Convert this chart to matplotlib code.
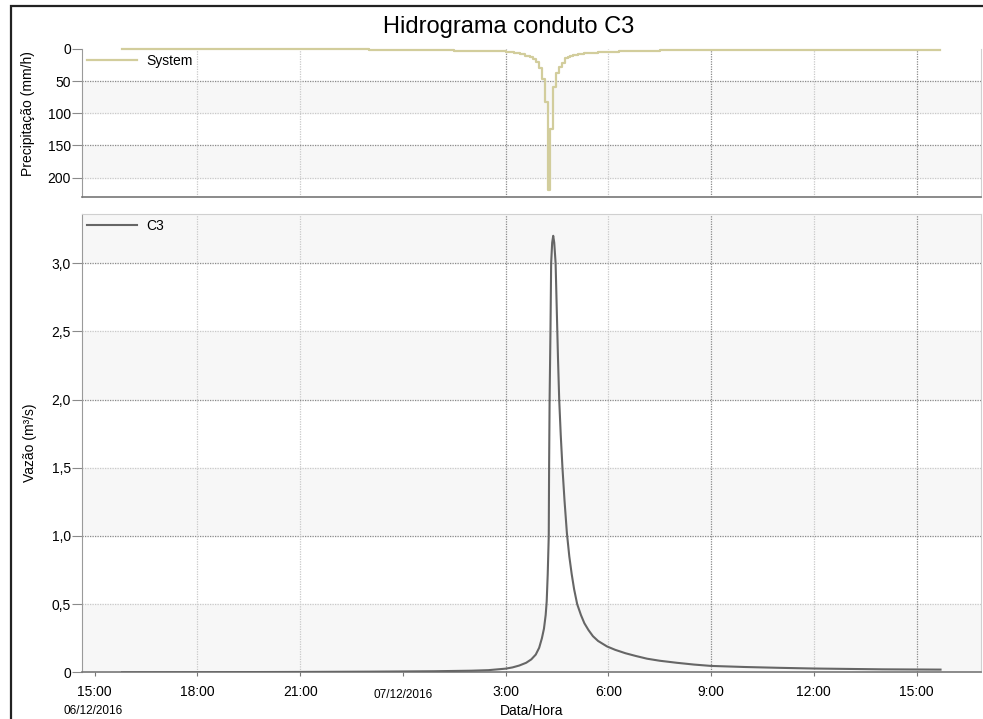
"""Hidrograma do conduto C3 com hietograma do evento (06-07/12/2016)."""
from datetime import datetime, timedelta

import matplotlib
matplotlib.use("Agg")
import matplotlib.pyplot as plt
import matplotlib.dates as mdates
from matplotlib.patches import Rectangle

plt.rcParams["font.family"] = ["Liberation Sans", "DejaVu Sans"]

BASE = datetime(2016, 12, 7, 0, 0)

# horas a partir de 07/12/2016 00:00, vazao em m3/s
flow_hours = [-8.2, -6.0, -3.0, -1.0, 0.9, 2.0, 2.5, 3.0, 3.2, 3.4, 3.6, 3.75,
              3.88, 3.98, 4.06, 4.12, 4.17, 4.20, 4.23, 4.26, 4.27, 4.285, 4.31,
              4.33, 4.36, 4.39, 4.42, 4.46, 4.50, 4.53, 4.565, 4.61, 4.66, 4.72,
              4.79, 4.86, 4.93, 5.0, 5.09, 5.2, 5.3, 5.42, 5.55, 5.7, 5.96, 6.2,
              6.5, 6.8, 7.13, 7.5, 8.0, 8.5, 9.0, 10.0, 11.0, 12.0, 13.0, 14.0,
              15.7]
flow_c3 = [0.0, 0.001, 0.003, 0.005, 0.008, 0.012, 0.016, 0.027, 0.036, 0.05,
           0.07, 0.095, 0.13, 0.18, 0.25, 0.32, 0.42, 0.52, 0.72, 1.0, 1.5, 2.0,
           2.5, 3.0, 3.15, 3.2, 3.15, 3.0, 2.6, 2.3, 2.0, 1.74, 1.5, 1.26, 1.02,
           0.85, 0.72, 0.61, 0.5, 0.42, 0.36, 0.31, 0.265, 0.23, 0.19, 0.165,
           0.14, 0.12, 0.10, 0.085, 0.07, 0.057, 0.047, 0.039, 0.033, 0.028,
           0.025, 0.022, 0.02]

# inicio de cada degrau do hietograma (horas) e intensidade (mm/h)
rain_hours = [-8.2, -4.0, -1.0, 0.5, 1.5, 2.5, 3.0, 3.25, 3.42, 3.58, 3.71,
              3.808, 3.892, 3.975, 4.058, 4.142, 4.225, 4.308, 4.392, 4.475,
              4.558, 4.642, 4.725, 4.808, 4.892, 4.975, 5.1, 5.3, 5.47, 5.7,
              5.95, 6.3, 6.72, 7.5, 9.0, 12.0, 15.68]
rain_system = [0.8, 1.0, 1.5, 2.3, 3.0, 4.0, 5.0, 6.5, 8.5, 10.5, 12.7, 16.0,
               21.0, 30.0, 47.0, 82.0, 219.0, 125.0, 60.0, 37.0, 28.0, 21.5,
               15.0, 12.5, 11.0, 9.5, 8.5, 7.2, 6.5, 5.5, 4.5, 3.7, 3.0, 2.0,
               1.5, 1.2, 1.2]

tick_hours = [-9, -6, -3, 0, 3, 6, 9, 12, 15]
tick_labels = ["15:00", "18:00", "21:00", "", "3:00", "6:00", "9:00", "12:00", "15:00"]


def to_dates(hours):
    return [BASE + timedelta(hours=h) for h in hours]


flow_t = to_dates(flow_hours)
rain_t = to_dates(rain_hours)
ticks = to_dates(tick_hours)

fig = plt.figure(figsize=(9.83, 7.19), dpi=100)
ax_p = fig.add_axes([0.0834, 0.7264, 0.9145, 0.2057])
ax_q = fig.add_axes([0.0834, 0.0649, 0.9145, 0.6375], sharex=ax_p)

fig.patches.append(Rectangle((11 / 983, -0.05), 1.2, 1.05 - 6 / 719,
                             transform=fig.transFigure, fill=False,
                             edgecolor="#222222", linewidth=1.6))
fig.text(0.517, 1 - 27 / 719, "Hidrograma conduto C3", ha="center", va="center",
         fontsize=17)

x0 = BASE + timedelta(hours=-9.37)
x1 = BASE + timedelta(hours=16.88)

dark = dict(color="#8a8a8a", linestyle=(0, (1, 1)), linewidth=0.9, zorder=1)
light = dict(color="#c9c9c9", linestyle=(0, (1, 1)), linewidth=0.9, zorder=1)
v_dark = [3, 9, 15]
v_light = [-6, -3, 6, 12]

# painel de precipitacao
for lo, hi in [(50, 100), (150, 200)]:
    ax_p.axhspan(lo, hi, color="#f7f7f7", zorder=0)
for y in [50, 150]:
    ax_p.axhline(y, **dark)
for y in [100, 200]:
    ax_p.axhline(y, **light)
ax_p.step(rain_t, rain_system, where="post", color="#d2cd9c", linewidth=1.6,
          label="System", zorder=3, clip_on=False)
ax_p.set_ylim(229.7, 0)
ax_p.set_yticks([0, 50, 100, 150, 200])
ax_p.set_ylabel("Precipitação (mm/h)", fontsize=10)
ax_p.yaxis.set_label_coords(-0.052, 0.56)
ax_p.tick_params(axis="x", which="both", bottom=False, labelbottom=False)
ax_p.spines["top"].set_visible(False)

# painel de vazao
for lo, hi in [(0, 0.5), (1.0, 1.5), (2.0, 2.5), (3.0, 3.36)]:
    ax_q.axhspan(lo, hi, color="#f7f7f7", zorder=0)
for y in [1.0, 2.0, 3.0]:
    ax_q.axhline(y, **dark)
for y in [0.5, 1.5, 2.5]:
    ax_q.axhline(y, **light)
ax_q.plot(flow_t, flow_c3, color="#666666", linewidth=1.5, label="C3", zorder=3)
ax_q.set_ylim(0, 3.36)
ax_q.set_yticks([0, 0.5, 1.0, 1.5, 2.0, 2.5, 3.0])
ax_q.set_yticklabels(["0", "0,5", "1,0", "1,5", "2,0", "2,5", "3,0"])
ax_q.set_ylabel("Vazão (m³/s)", fontsize=10)
ax_q.yaxis.set_label_coords(-0.050, 0.5)

for ax in (ax_p, ax_q):
    for h in v_dark:
        ax.axvline(BASE + timedelta(hours=h), **dark)
    for h in v_light:
        ax.axvline(BASE + timedelta(hours=h), **light)
    ax.set_facecolor("white")
    for side in ("top", "right"):
        ax.spines[side].set_color("#d0d0d0")
    ax.spines["left"].set_color("#9a9a9a")
    ax.spines["bottom"].set_color("#777777")
    ax.spines["bottom"].set_linewidth(1.2)
    ax.tick_params(axis="y", length=7, color="#8a8a8a", labelsize=10, pad=1)
    ax.legend(loc="upper left", frameon=False, fontsize=10, handlelength=3.6,
              borderaxespad=0.1, borderpad=0.25, handletextpad=0.65)

ax_q.set_xlim(x0, x1)
ax_q.set_xticks(ticks)
ax_q.set_xticklabels(tick_labels)
ax_q.tick_params(axis="x", length=3, color="#777777", labelsize=10, pad=6)

xt = ax_q.get_xaxis_transform()
ax_q.annotate("07/12/2016", xy=(mdates.date2num(BASE), 0), xycoords=xt,
              xytext=(0, -16), textcoords="offset points", ha="center",
              va="center", fontsize=8.5)
ax_q.annotate("06/12/2016", xy=(mdates.date2num(ticks[0]), 0), xycoords=xt,
              xytext=(-1, -27.5), textcoords="offset points", ha="center",
              va="center", fontsize=8.5)
ax_q.annotate("Data/Hora", xy=(0.5, 0), xycoords="axes fraction",
              xytext=(0, -27.5), textcoords="offset points", ha="center",
              va="center", fontsize=10)

fig.savefig("out.png", dpi=100)
